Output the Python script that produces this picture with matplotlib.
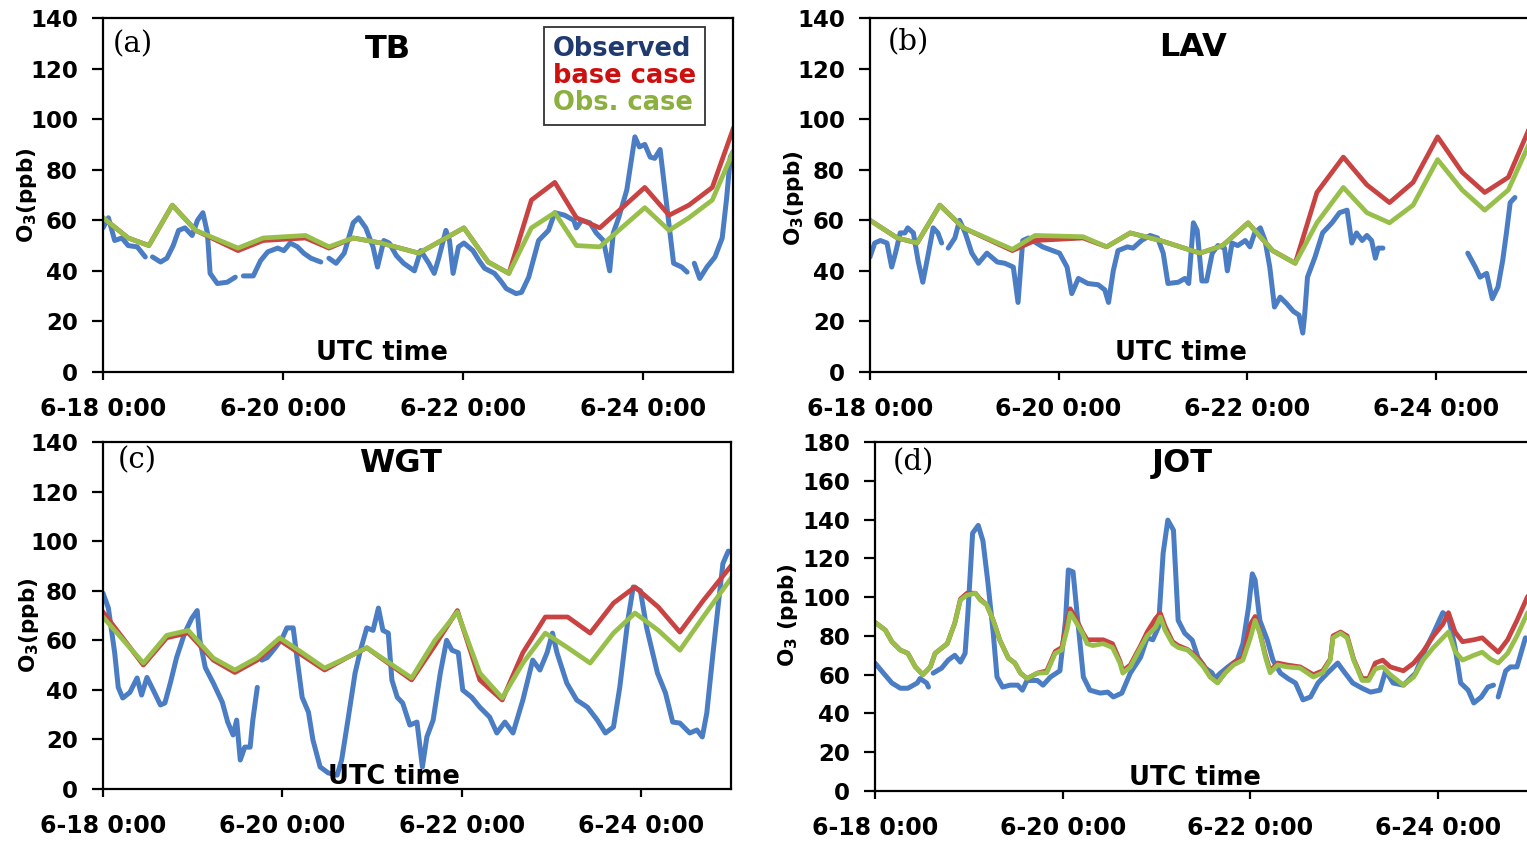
import numpy as np
import matplotlib
matplotlib.use("Agg")
import matplotlib.pyplot as plt
from matplotlib.lines import Line2D

plt.rcParams['font.family'] = 'DejaVu Sans'
plt.rcParams['font.weight'] = 'bold'
plt.rcParams['mathtext.default'] = 'bf'

nan = np.nan

# ---- data (time in days since 6-18 0:00 UTC, O3 in ppb) ----
tick_days = [0, 2, 4, 6]
tick_labels = ["6-18 0:00", "6-20 0:00", "6-22 0:00", "6-24 0:00"]
legend_labels = ["Observed", "base case", "Obs. case"]

# (a) TB
tb_obs_t = [0.00, 0.06, 0.13, 0.21, 0.28, 0.38, 0.47, 0.51, 0.55, 0.64,
            0.71, 0.78, 0.84, 0.91, 0.99, 1.05, 1.11, 1.16, 1.19, 1.27,
            1.38, 1.47, 1.52, 1.56, 1.67, 1.75, 1.83, 1.94, 2.01, 2.08,
            2.16, 2.23, 2.31, 2.42, 2.47, 2.51, 2.59, 2.68, 2.78, 2.84,
            2.92, 3.00, 3.05, 3.12, 3.18, 3.26, 3.34, 3.46, 3.53, 3.62,
            3.68, 3.73, 3.81, 3.85, 3.89, 3.95, 4.01, 4.11, 4.18, 4.24,
            4.35, 4.43, 4.48, 4.59, 4.65, 4.73, 4.84, 4.95, 5.02, 5.13,
            5.23, 5.26, 5.32, 5.41, 5.48, 5.56, 5.63, 5.67, 5.73, 5.82,
            5.91, 5.96, 6.02, 6.08, 6.13, 6.19, 6.24, 6.30, 6.34, 6.43,
            6.49, 6.53, 6.57, 6.63, 6.71, 6.80, 6.88, 6.93, 6.97, 7.00]
tb_obs = [57, 61, 52, 53, 50, 49.5, 45.5, nan, 45.5, 43.5,
          45, 50, 56, 57, 54, 60, 63, 55, 39, 35,
          35.5, 37.5, nan, 38, 38, 44, 47.5, 49, 48, 51,
          49.5, 47, 45, 43.5, nan, 45, 43, 47, 59, 61,
          57, 49.5, 41.5, 52, 51, 46, 43, 40, 48, 43,
          39, 45, 56, 52, 39, 49.5, 51, 48, 44, 41,
          39, 35.5, 33, 31, 31.5, 37.5, 52, 56, 63, 62,
          60, 57, 60, 59, 55, 52, 40, 55, 61, 72,
          93, 89, 90, 85, 84.5, 88, 73, 55, 43, 41.5,
          39.5, nan, 43, 37, 41.5, 45.5, 53, 69, 85, 87]
tb_mod_t = [0.00, 0.28, 0.51, 0.77, 1.03, 1.50, 1.78, 2.25, 2.51, 2.78, 3.09, 3.51,
            4.01, 4.28, 4.51, 4.76, 5.02, 5.26, 5.52, 6.02, 6.29, 6.51, 6.77, 7.00]
tb_base = [61, 53, 50, 66, 56, 48, 52, 53, 49, 53, 51, 47,
           57, 43.5, 39, 68, 75, 61, 57, 73, 62, 66, 73, 96]
tb_obsc = [61, 53, 50, 66, 56, 49, 53, 54, 49.5, 53, 51, 47,
           57, 43.5, 39, 57, 63, 50, 49.5, 65, 56, 61, 68, 87]

# (b) LAV
lav_obs_t = [0.00, 0.05, 0.11, 0.18, 0.23, 0.27, 0.32, 0.37, 0.40, 0.46,
             0.51, 0.56, 0.62, 0.67, 0.72, 0.76, 0.80, 0.83, 0.90, 0.95,
             1.01, 1.08, 1.15, 1.24, 1.35, 1.43, 1.52, 1.57, 1.62, 1.68,
             1.83, 2.01, 2.09, 2.14, 2.21, 2.31, 2.42, 2.49, 2.53, 2.58,
             2.63, 2.73, 2.79, 2.88, 2.97, 3.05, 3.11, 3.16, 3.27, 3.34,
             3.38, 3.43, 3.47, 3.52, 3.57, 3.63, 3.69, 3.76, 3.79, 3.84,
             3.90, 3.98, 4.03, 4.08, 4.14, 4.19, 4.24, 4.29, 4.35, 4.42,
             4.49, 4.55, 4.59, 4.61, 4.64, 4.72, 4.80, 4.90, 4.98, 5.06,
             5.11, 5.16, 5.22, 5.27, 5.32, 5.36, 5.39, 5.44, 5.90, 6.34,
             6.42, 6.47, 6.54, 6.60, 6.66, 6.71, 6.75, 6.79, 6.84]
lav_obs = [45.5, 51, 52, 51, 41.5, 47, 55, 55, 57, 55,
           44, 35.5, 47, 57, 55, 51, nan, 49, 53, 60,
           55, 47, 43, 47, 43.5, 43, 41.5, 27.5, 52, 53,
           49.5, 47, 41.5, 31, 37, 35, 34.5, 32.5, 27.5, 40,
           48, 49.5, 49, 52, 54, 53, 47, 35, 35.5, 37,
           35, 59, 56, 36, 36, 47, 50, 49, 40, 51,
           50, 52, 49.5, 55, 57, 52, 41.5, 25.7, 29.6, 27,
           24, 22.5, 15.4, 22.5, 37.5, 45.5, 55, 59, 63, 64,
           51, 55, 52, 54, 52, 45, 49, 49, nan, 47,
           41.5, 37.5, 39, 29, 33.6, 44, 55, 67, 69]
lav_mod_t = [0.00, 0.29, 0.50, 0.74, 0.99, 1.51, 1.75, 2.26, 2.51, 2.76, 3.08, 3.50, 3.74,
             4.01, 4.27, 4.51, 4.74, 5.02, 5.27, 5.51, 5.76, 6.02, 6.28, 6.52, 6.77, 7.00]
lav_base = [60, 53, 51, 66, 57, 48, 52, 53, 49.5, 55, 52, 47, 50,
            59, 48, 43, 71, 85, 74, 67, 75, 93, 79, 71, 77, 97]
lav_obsc = [60, 53, 51, 66, 57, 48.5, 54, 53.5, 49.5, 55, 52, 47, 50,
            59, 48, 43, 59, 73, 63, 59, 66, 84, 72, 64, 72, 91]

# (c) WGT
wgt_obs_t = [0.00, 0.06, 0.13, 0.17, 0.22, 0.30, 0.38, 0.43, 0.49, 0.56,
             0.64, 0.69, 0.75, 0.82, 0.91, 0.99, 1.05, 1.08, 1.14, 1.23,
             1.33, 1.39, 1.45, 1.49, 1.53, 1.58, 1.64, 1.67, 1.72, 1.745,
             1.77, 1.83, 1.92, 2.00, 2.05, 2.12, 2.17, 2.22, 2.29, 2.34,
             2.42, 2.51, 2.61, 2.66, 2.73, 2.81, 2.87, 2.94, 3.01, 3.07,
             3.12, 3.18, 3.22, 3.28, 3.34, 3.42, 3.50, 3.56, 3.61, 3.68,
             3.76, 3.83, 3.89, 3.96, 4.01, 4.11, 4.20, 4.31, 4.39, 4.48,
             4.57, 4.68, 4.79, 4.87, 4.95, 5.01, 5.06, 5.17, 5.28, 5.40,
             5.51, 5.60, 5.69, 5.76, 5.85, 5.91, 5.99, 6.06, 6.18, 6.27,
             6.35, 6.43, 6.54, 6.62, 6.68, 6.73, 6.80, 6.86, 6.91, 6.97]
wgt_obs = [79, 73, 55, 41, 36.7, 39, 44.8, 37.9, 45, 39.9,
           33.9, 34.7, 42.7, 53, 62.9, 68.9, 72, 60, 49, 42.7,
           35, 27, 21.8, 27.8, 11.7, 16.9, 16.9, 27.8, 41, nan,
           52, 53, 57, 61, 65, 65, 50.8, 37, 31, 19.8,
           8.9, 6.5, 5.6, 11.7, 27.8, 46.8, 56, 65, 64, 73,
           64, 62.9, 44, 37, 34.7, 25.8, 27, 8.9, 21, 27.8,
           46.8, 60, 56, 55, 39.9, 37, 33, 29, 22.6, 27,
           22.6, 35.9, 52, 48, 55, 62.9, 55, 42.7, 35.9, 33,
           27.8, 22.6, 25, 41, 68, 81.5, 80, 65, 46.8, 38.7,
           27, 26.6, 22.6, 23.8, 21, 30.6, 55, 75, 91, 96]
wgt_mod_t = [0.00, 0.45, 0.71, 0.95, 1.23, 1.47, 1.72, 1.97, 2.22, 2.47, 2.72, 2.94, 3.44,
             3.70, 3.95, 4.20, 4.45, 4.68, 4.93, 5.18, 5.43, 5.69, 5.93, 6.19, 6.43, 6.69, 7.00]
wgt_base = [71.4, 50, 61, 63, 52, 47, 52, 60, 54, 48, 53, 57, 44,
            58, 72, 44, 35.9, 55, 69.4, 69.4, 62.9, 75, 81.5, 73.4, 63.3, 76, 90]
wgt_obsc = [69.4, 50.8, 62, 64, 52.8, 48, 53, 61, 55, 48.8, 53, 57, 44.8,
            60, 71.4, 46.8, 36.7, 50.8, 62.9, 57, 50.8, 62.9, 71, 64, 56, 69.4, 85]

# (d) JOT
jot_obs_t = [0.00, 0.09, 0.18, 0.27, 0.35, 0.45, 0.48, 0.55, 0.57, 0.595,
             0.62, 0.71, 0.78, 0.85, 0.91, 0.96, 0.99, 1.04, 1.10, 1.15,
             1.20, 1.26, 1.30, 1.36, 1.44, 1.52, 1.57, 1.62, 1.73, 1.79,
             1.87, 1.97, 2.03, 2.06, 2.11, 2.16, 2.22, 2.29, 2.40, 2.48,
             2.54, 2.63, 2.72, 2.83, 2.90, 2.96, 3.02, 3.07, 3.12, 3.18,
             3.23, 3.30, 3.38, 3.44, 3.52, 3.59, 3.62, 3.68, 3.76, 3.86,
             3.92, 3.98, 4.02, 4.05, 4.10, 4.18, 4.24, 4.32, 4.40, 4.48,
             4.56, 4.64, 4.72, 4.82, 4.93, 4.99, 5.09, 5.19, 5.28, 5.38,
             5.44, 5.52, 5.63, 5.76, 5.86, 5.95, 6.05, 6.11, 6.18, 6.24,
             6.32, 6.38, 6.46, 6.53, 6.59, 6.615, 6.64, 6.72, 6.77, 6.84,
             6.93]
jot_obs = [66, 60.8, 55.7, 53, 53, 55.7, 58, 55.7, 53.6, nan,
           60.8, 63.4, 67.5, 70, 66.5, 71, 91.8, 133, 137, 129,
           108.8, 81.4, 58.8, 53.6, 54.6, 54.6, 52, 57, 57, 54.6,
           58.8, 62, 88, 114, 113, 88, 58.8, 52, 50.5, 51,
           48.5, 50.5, 60.8, 69, 79, 78, 84.5, 122.7, 139.7, 134.5,
           88, 81.4, 77.8, 69, 63.4, 61, 58, 60.8, 64, 67.5,
           76, 94.8, 112, 108.8, 88, 77.8, 67.5, 60.8, 58, 55.7,
           47, 48.5, 55.7, 60.8, 66, 62, 55.7, 53, 51, 52,
           62, 55.7, 54.6, 60.8, 72.7, 81.4, 92, 89.7, 74, 55.7,
           52, 45.4, 48.5, 53.6, 54.6, nan, 48.5, 62, 64, 64,
           79]
jot_mod_t = [0.00, 0.11, 0.18, 0.27, 0.35, 0.43, 0.51, 0.59, 0.64, 0.77,
             0.85, 0.91, 0.98, 1.07, 1.12, 1.19, 1.26, 1.33, 1.42, 1.49,
             1.55, 1.62, 1.73, 1.83, 1.92, 1.99, 2.05, 2.08, 2.13, 2.21,
             2.26, 2.32, 2.43, 2.53, 2.61, 2.64, 2.72, 2.83, 2.90, 2.99,
             3.04, 3.09, 3.17, 3.23, 3.33, 3.41, 3.50, 3.57, 3.65, 3.73,
             3.82, 3.92, 4.00, 4.05, 4.10, 4.16, 4.21, 4.29, 4.39, 4.53,
             4.67, 4.77, 4.85, 4.88, 4.96, 5.03, 5.10, 5.19, 5.26, 5.33,
             5.41, 5.49, 5.63, 5.74, 5.84, 5.95, 6.05, 6.11, 6.18, 6.26,
             6.38, 6.47, 6.56, 6.64, 6.74, 6.84, 6.95, 7.00]
jot_base = [87, 83, 77, 72.7, 71, 64, 60, 64, 71, 76,
            86.6, 99, 102, 102, 99, 96, 88, 77.8, 68.6, 66,
            60.8, 58, 60.8, 62, 72, 74, 88, 94, 90, 82,
            78, 78, 78, 76, 67, 62, 65, 75, 82, 89,
            91.7, 85, 77, 75, 73, 70, 65, 59, 56, 61,
            66, 69, 86, 90, 82, 70, 62, 66, 65, 64,
            60, 62, 68, 80, 82, 80, 68, 58, 58, 66,
            67.5, 64, 62, 66, 72, 80, 86, 92, 82, 77,
            78, 79, 75, 71.6, 78, 88, 100, 103]
jot_obsc = [87, 83, 77, 72.7, 71, 64, 60, 64, 71, 76,
            86.6, 98.5, 101, 102, 98.5, 96, 88, 77.8, 68.6, 66,
            60.8, 58, 60.8, 61, 71, 72.7, 84, 91.8, 88, 81.4,
            76, 75, 76, 74, 66, 60.8, 64, 74, 80, 84.5,
            89.7, 83, 76, 74, 72.7, 69, 64, 58.8, 55.7, 60.8,
            65, 67.5, 79, 88, 81.4, 69, 61, 65, 64, 63.4,
            58.8, 61, 67.5, 79, 81.4, 79, 67.5, 57, 57, 63,
            64, 60, 54.6, 58.8, 67.5, 74, 79, 82, 72, 67.5,
            70, 71.6, 68, 66, 71, 80, 91.7, 94]

# ---- styling ----
c_obs = '#4A7DC4'
c_base = '#C84341'
c_obsc = '#97BF4A'
legend_colors = ['#1F3A6E', '#CC1010', '#8BB040']

W, H = 1527, 841
fig = plt.figure(figsize=(W / 100, H / 100), dpi=100)

panels = [
    dict(rect=(103, 18, 630, 354), ymax=140, letter='(a)', title='TB', tpos=(0.452, 0.912),
         lpos=(0.016, 0.927), upos=(0.443, 0.054), ylab='O$_3$(ppb)', ypos=(-0.121, 0.50),
         data=(tb_obs_t, tb_obs, tb_mod_t, tb_base, tb_mod_t, tb_obsc)),
    dict(rect=(870, 18, 660, 354), ymax=140, letter='(b)', title='LAV', tpos=(0.489, 0.918),
         lpos=(0.027, 0.932), upos=(0.471, 0.054), ylab='O$_3$(ppb)', ypos=(-0.115, 0.49),
         data=(lav_obs_t, lav_obs, lav_mod_t, lav_base, lav_mod_t, lav_obsc)),
    dict(rect=(103, 442, 628, 347), ymax=140, letter='(c)', title='WGT', tpos=(0.473, 0.937),
         lpos=(0.024, 0.948), upos=(0.463, 0.035), ylab='O$_3$(ppb)', ypos=(-0.118, 0.473),
         data=(wgt_obs_t, wgt_obs, wgt_mod_t, wgt_base, wgt_mod_t, wgt_obsc)),
    dict(rect=(875, 442, 657, 349), ymax=180, letter='(d)', title='JOT', tpos=(0.467, 0.937),
         lpos=(0.027, 0.943), upos=(0.487, 0.037), ylab='O$_3$ (ppb)', ypos=(-0.132, 0.504),
         data=(jot_obs_t, jot_obs, jot_mod_t, jot_base, jot_mod_t, jot_obsc)),
]

for i, p in enumerate(panels):
    x0, y0, w, h = p['rect']
    ax = fig.add_axes([x0 / W, 1 - (y0 + h) / H, w / W, h / H])
    t_obs, v_obs, t_b, v_b, t_o, v_o = p['data']
    ax.plot(t_obs, v_obs, color=c_obs, lw=3.6, solid_capstyle='round', solid_joinstyle='round')
    ax.plot(t_b, v_b, color=c_base, lw=3.4, solid_joinstyle='round')
    ax.plot(t_o, v_o, color=c_obsc, lw=3.4, solid_joinstyle='round')

    ax.set_xlim(0, 7)
    ax.set_ylim(0, p['ymax'])
    ax.set_yticks(np.arange(0, p['ymax'] + 1, 20))
    ax.set_xticks(tick_days)
    ax.set_xticklabels(tick_labels)
    ax.tick_params(axis='y', direction='out', length=8, width=1.6, pad=10, labelsize=16.5)
    ax.tick_params(axis='x', direction='out', length=6, width=1.6, pad=12, labelsize=17)
    for lab in ax.get_xticklabels() + ax.get_yticklabels():
        lab.set_fontweight('bold')
    for s in ax.spines.values():
        s.set_linewidth(1.6)
        s.set_color('black')

    ax.text(*p['tpos'], p['title'], transform=ax.transAxes, ha='center', va='center',
            fontsize=23, fontweight='bold')
    ax.text(*p['lpos'], p['letter'], transform=ax.transAxes, ha='left', va='center',
            fontsize=21, fontweight='normal', family='DejaVu Serif')
    ax.text(*p['upos'], 'UTC time', transform=ax.transAxes, ha='center', va='center',
            fontsize=18.5, fontweight='bold')
    ax.text(*p['ypos'], p['ylab'], transform=ax.transAxes, ha='center', va='center',
            rotation=90, fontsize=15.5, fontweight='bold')

    if i == 0:
        handles = [Line2D([], [], linestyle='none') for _ in legend_labels]
        leg = ax.legend(handles, legend_labels, loc='upper right', bbox_to_anchor=(0.956, 0.975),
                        borderaxespad=0, handlelength=0, handletextpad=0, fancybox=False,
                        edgecolor='#333333', framealpha=1, labelcolor=legend_colors,
                        prop={'weight': 'bold', 'size': 18.5}, labelspacing=0.05,
                        borderpad=0.35, alignment='center')
        leg.get_frame().set_linewidth(1.3)

fig.savefig('out.png', dpi=100)
